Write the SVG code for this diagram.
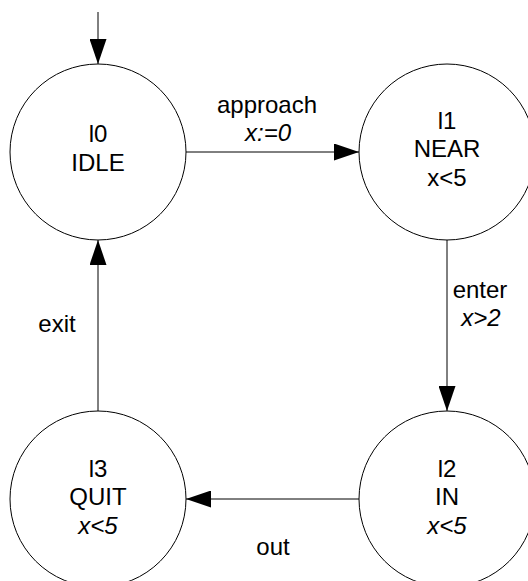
<svg xmlns="http://www.w3.org/2000/svg" width="528" height="581" viewBox="0 0 528 581">
  <style>
    .state { fill: #ffffff; stroke: #000000; stroke-width: 1; }
    .edge { fill: none; stroke: #000000; stroke-width: 1; }
    text { font-family: "Liberation Sans", Arial, sans-serif; font-size: 24px; fill: #000000; text-anchor: middle; }
    .inv { font-style: italic; }
  </style>
  <defs>
    <marker id="head" markerUnits="userSpaceOnUse" markerWidth="25" markerHeight="17" refX="25" refY="8.5" orient="auto">
      <path d="M0,0 L25,8.5 L0,17 Z" fill="#000000"/>
    </marker>
  </defs>

  <!-- transitions -->
  <g id="connectors">
    <line class="edge" x1="98" y1="12" x2="98" y2="64" marker-end="url(#head)"/>
    <line class="edge" x1="186" y1="152" x2="359" y2="152" marker-end="url(#head)"/>
    <line class="edge" x1="447" y1="240" x2="447" y2="411" marker-end="url(#head)"/>
    <line class="edge" x1="359" y1="499" x2="186" y2="499" marker-end="url(#head)"/>
    <line class="edge" x1="98" y1="411" x2="98" y2="240" marker-end="url(#head)"/>
    <text x="267" y="113">approach</text>
    <text x="268" y="141" class="inv">x:=0</text>
    <text x="480" y="298">enter</text>
    <text x="481" y="326" class="inv">x&gt;2</text>
    <text x="273" y="555">out</text>
    <text x="57" y="332">exit</text>
  </g>

  <!-- locations -->
  <g id="l0">
    <circle class="state" cx="98" cy="152" r="88"/>
    <text x="98" y="142">l0</text>
    <text x="98" y="171">IDLE</text>
  </g>
  <g id="l1">
    <circle class="state" cx="447" cy="152" r="88"/>
    <text x="447" y="129">l1</text>
    <text x="447" y="157">NEAR</text>
    <text x="447" y="186">x&lt;5</text>
  </g>
  <g id="l2">
    <circle class="state" cx="447" cy="499" r="88"/>
    <text x="447" y="477">l2</text>
    <text x="447" y="505">IN</text>
    <text x="447" y="534" class="inv">x&lt;5</text>
  </g>
  <g id="l3">
    <circle class="state" cx="98" cy="499" r="88"/>
    <text x="98" y="477">l3</text>
    <text x="98" y="505">QUIT</text>
    <text x="98" y="534" class="inv">x&lt;5</text>
  </g>
</svg>
